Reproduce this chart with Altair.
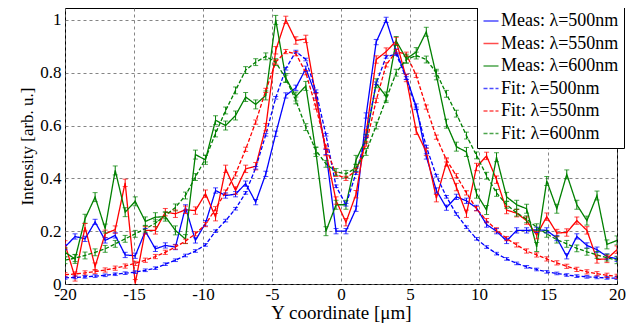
import altair as alt
import pandas as pd

# Sample positions (um)
x_um = [-20.00, -19.27, -18.55, -17.82, -17.09, -16.36, -15.64, -14.91, -14.18, -13.45,
        -12.73, -12.00, -11.27, -10.55, -9.82, -9.09, -8.36, -7.64, -6.91, -6.18,
        -5.45, -4.73, -4.00, -3.27, -2.55, -1.82, -1.09, -0.36, 0.36, 1.09,
        1.82, 2.55, 3.27, 4.00, 4.73, 5.45, 6.18, 6.91, 7.64, 8.36,
        9.09, 9.82, 10.55, 11.27, 12.00, 12.73, 13.45, 14.18, 14.91, 15.64,
        16.36, 17.09, 17.82, 18.55, 19.27, 20.00]

meas_500 = [0.14, 0.18, 0.171, 0.235, 0.165, 0.184, 0.11, 0.107, 0.2, 0.133,
            0.146, 0.14, 0.29, 0.165, 0.23, 0.354, 0.335, 0.34, 0.38, 0.31,
            0.417, 0.569, 0.714, 0.743, 0.815, 0.714, 0.5, 0.2, 0.2, 0.285,
            0.638, 0.916, 1.0, 0.88, 0.784, 0.672, 0.483, 0.354, 0.289, 0.33,
            0.315, 0.288, 0.225, 0.2, 0.163, 0.203, 0.203, 0.205, 0.203, 0.174,
            0.105, 0.18, 0.146, 0.13, 0.104, 0.095]

meas_550 = [0.15, 0.025, 0.215, 0.066, 0.19, 0.206, 0.383, 0.003, 0.203, 0.203,
            0.272, 0.266, 0.281, 0.278, 0.342, 0.253, 0.436, 0.354, 0.436, 0.446,
            0.594, 0.885, 1.0, 0.922, 0.928, 0.708, 0.5, 0.316, 0.234, 0.34,
            0.57, 0.85, 0.88, 0.92, 0.78, 0.58, 0.5, 0.325, 0.46, 0.367,
            0.266, 0.443, 0.485, 0.395, 0.28, 0.268, 0.24, 0.185, 0.255, 0.193,
            0.195, 0.24, 0.203, 0.093, 0.095, 0.13]

meas_600 = [0.12, 0.095, 0.247, 0.329, 0.21, 0.43, 0.272, 0.313, 0.237, 0.253,
            0.255, 0.203, 0.17, 0.49, 0.47, 0.62, 0.6, 0.638, 0.708, 0.68,
            0.714, 1.0, 0.78, 0.71, 0.75, 0.5, 0.2, 0.3, 0.3, 0.47,
            0.55, 0.76, 0.71, 0.92, 0.853, 0.878, 0.955, 0.79, 0.607, 0.52,
            0.5, 0.342, 0.28, 0.48, 0.33, 0.3, 0.285, 0.14, 0.39, 0.285,
            0.415, 0.3, 0.24, 0.335, 0.15, 0.165]

fit_500 = [0.023, 0.025, 0.027, 0.03, 0.033, 0.037, 0.041, 0.045, 0.052, 0.06,
           0.075, 0.09, 0.108, 0.125, 0.148, 0.2, 0.24, 0.285, 0.345, 0.44,
           0.565, 0.705, 0.815, 0.88, 0.85, 0.73, 0.565, 0.37, 0.3, 0.42,
           0.56, 0.76, 0.86, 0.87, 0.78, 0.665, 0.52, 0.41, 0.33, 0.265,
           0.215, 0.171, 0.14, 0.115, 0.095, 0.078, 0.065, 0.055, 0.046, 0.04,
           0.034, 0.03, 0.027, 0.025, 0.023, 0.022]

fit_550 = [0.035, 0.038, 0.042, 0.047, 0.053, 0.06, 0.068, 0.078, 0.09, 0.104,
           0.12, 0.14, 0.162, 0.19, 0.225, 0.285, 0.348, 0.417, 0.51, 0.613,
           0.733, 0.84, 0.88, 0.872, 0.8, 0.67, 0.518, 0.415, 0.4, 0.43,
           0.53, 0.695, 0.83, 0.88, 0.87, 0.79, 0.67, 0.556, 0.47, 0.41,
           0.345, 0.285, 0.24, 0.205, 0.172, 0.148, 0.125, 0.11, 0.095, 0.08,
           0.067, 0.055, 0.046, 0.039, 0.033, 0.029]

fit_600 = [0.09, 0.098, 0.108, 0.12, 0.133, 0.152, 0.171, 0.19, 0.209, 0.23,
           0.26, 0.29, 0.335, 0.405, 0.475, 0.57, 0.657, 0.733, 0.81, 0.84,
           0.862, 0.84, 0.778, 0.695, 0.594, 0.506, 0.455, 0.424, 0.417, 0.44,
           0.5, 0.6, 0.7, 0.8, 0.85, 0.865, 0.85, 0.8, 0.72, 0.645,
           0.562, 0.487, 0.41, 0.345, 0.3, 0.27, 0.245, 0.215, 0.19, 0.168,
           0.152, 0.135, 0.122, 0.11, 0.1, 0.09]

series_names = ["Meas: λ=500nm", "Meas: λ=550nm", "Meas: λ=600nm",
                "Fit: λ=500nm", "Fit: λ=550nm", "Fit: λ=600nm"]
series_values = [meas_500, meas_550, meas_600, fit_500, fit_550, fit_600]
series_err = [0.010, 0.014, 0.017, 0.005, 0.008, 0.013]
series_colors = ["#0000ff", "#ff0000", "#008000", "#0000ff", "#ff0000", "#008000"]
series_dash = [[1, 0], [1, 0], [1, 0], [4, 2], [4, 2], [4, 2]]

x_ticks = [-20, -15, -10, -5, 0, 5, 10, 15, 20]
y_ticks = [0, 0.2, 0.4, 0.6, 0.8, 1.0]

rows = []
for name, vals, err in zip(series_names, series_values, series_err):
    for xv, yv in zip(x_um, vals):
        rows.append({"x": xv, "y": yv, "lo": yv - err, "hi": yv + err, "series": name})
df = pd.DataFrame(rows)

FONT = "Liberation Serif"
xscale = alt.Scale(domain=[-20, 20], nice=False, zero=False)
yscale = alt.Scale(domain=[0, 1.045], nice=False, zero=False)
cscale = alt.Scale(domain=series_names, range=series_colors)
dscale = alt.Scale(domain=series_names, range=series_dash)

x_axis = alt.Axis(values=x_ticks, labelExpr="'' + datum.value", title="Y coordinate [μm]",
                  labelFont=FONT, labelFontSize=17, labelColor="black", labelPadding=2,
                  labelFlush=False, titleFont=FONT, titleFontSize=19, titleFontWeight="normal",
                  titleColor="black", titlePadding=1, ticks=False, domain=False,
                  grid=True, gridColor="#666666", gridDash=[3, 3], gridWidth=0.8)
y_axis = alt.Axis(values=y_ticks, format="~g", title="Intensity [arb. u.]",
                  labelFont=FONT, labelFontSize=17, labelColor="black", labelPadding=4,
                  labelFlush=False, titleFont=FONT, titleFontSize=17, titleFontWeight="normal",
                  titleColor="black", titlePadding=3, ticks=False, domain=False,
                  grid=True, gridColor="#666666", gridDash=[3, 3], gridWidth=0.8)

legend = alt.Legend(title=None, orient="none", legendX=412, legendY=-1,
                    fillColor="white", strokeColor="black", padding=5,
                    symbolType="stroke", symbolSize=225, symbolStrokeWidth=1.5,
                    labelFont=FONT, labelFontSize=18, labelColor="black",
                    labelLimit=300, rowPadding=4.5, labelOffset=1)

base = alt.Chart(df)

lines = base.mark_line(strokeWidth=1.3, clip=True).encode(
    x=alt.X("x:Q", scale=xscale, axis=x_axis),
    y=alt.Y("y:Q", scale=yscale, axis=y_axis),
    color=alt.Color("series:N", scale=cscale, legend=legend),
    strokeDash=alt.StrokeDash("series:N", scale=dscale, legend=legend),
)

bars = base.mark_rule(strokeWidth=1, clip=True).encode(
    x="x:Q", y="lo:Q", y2="hi:Q",
    color=alt.Color("series:N", scale=cscale),
)
cap_lo = base.mark_tick(orient="horizontal", size=5, thickness=1, clip=True).encode(
    x="x:Q", y="lo:Q", color=alt.Color("series:N", scale=cscale),
)
cap_hi = base.mark_tick(orient="horizontal", size=5, thickness=1, clip=True).encode(
    x="x:Q", y="hi:Q", color=alt.Color("series:N", scale=cscale),
)

chart = alt.layer(lines, bars, cap_lo, cap_hi).properties(
    width=552, height=276,
    autosize=alt.AutoSizeParams(type="none"),
    padding={"left": 57, "top": 0, "right": 10, "bottom": 40},
    background="white",
).configure_view(stroke="black", strokeWidth=1)

chart.save("out.html", embed_options={"renderer": "svg", "actions": False})
